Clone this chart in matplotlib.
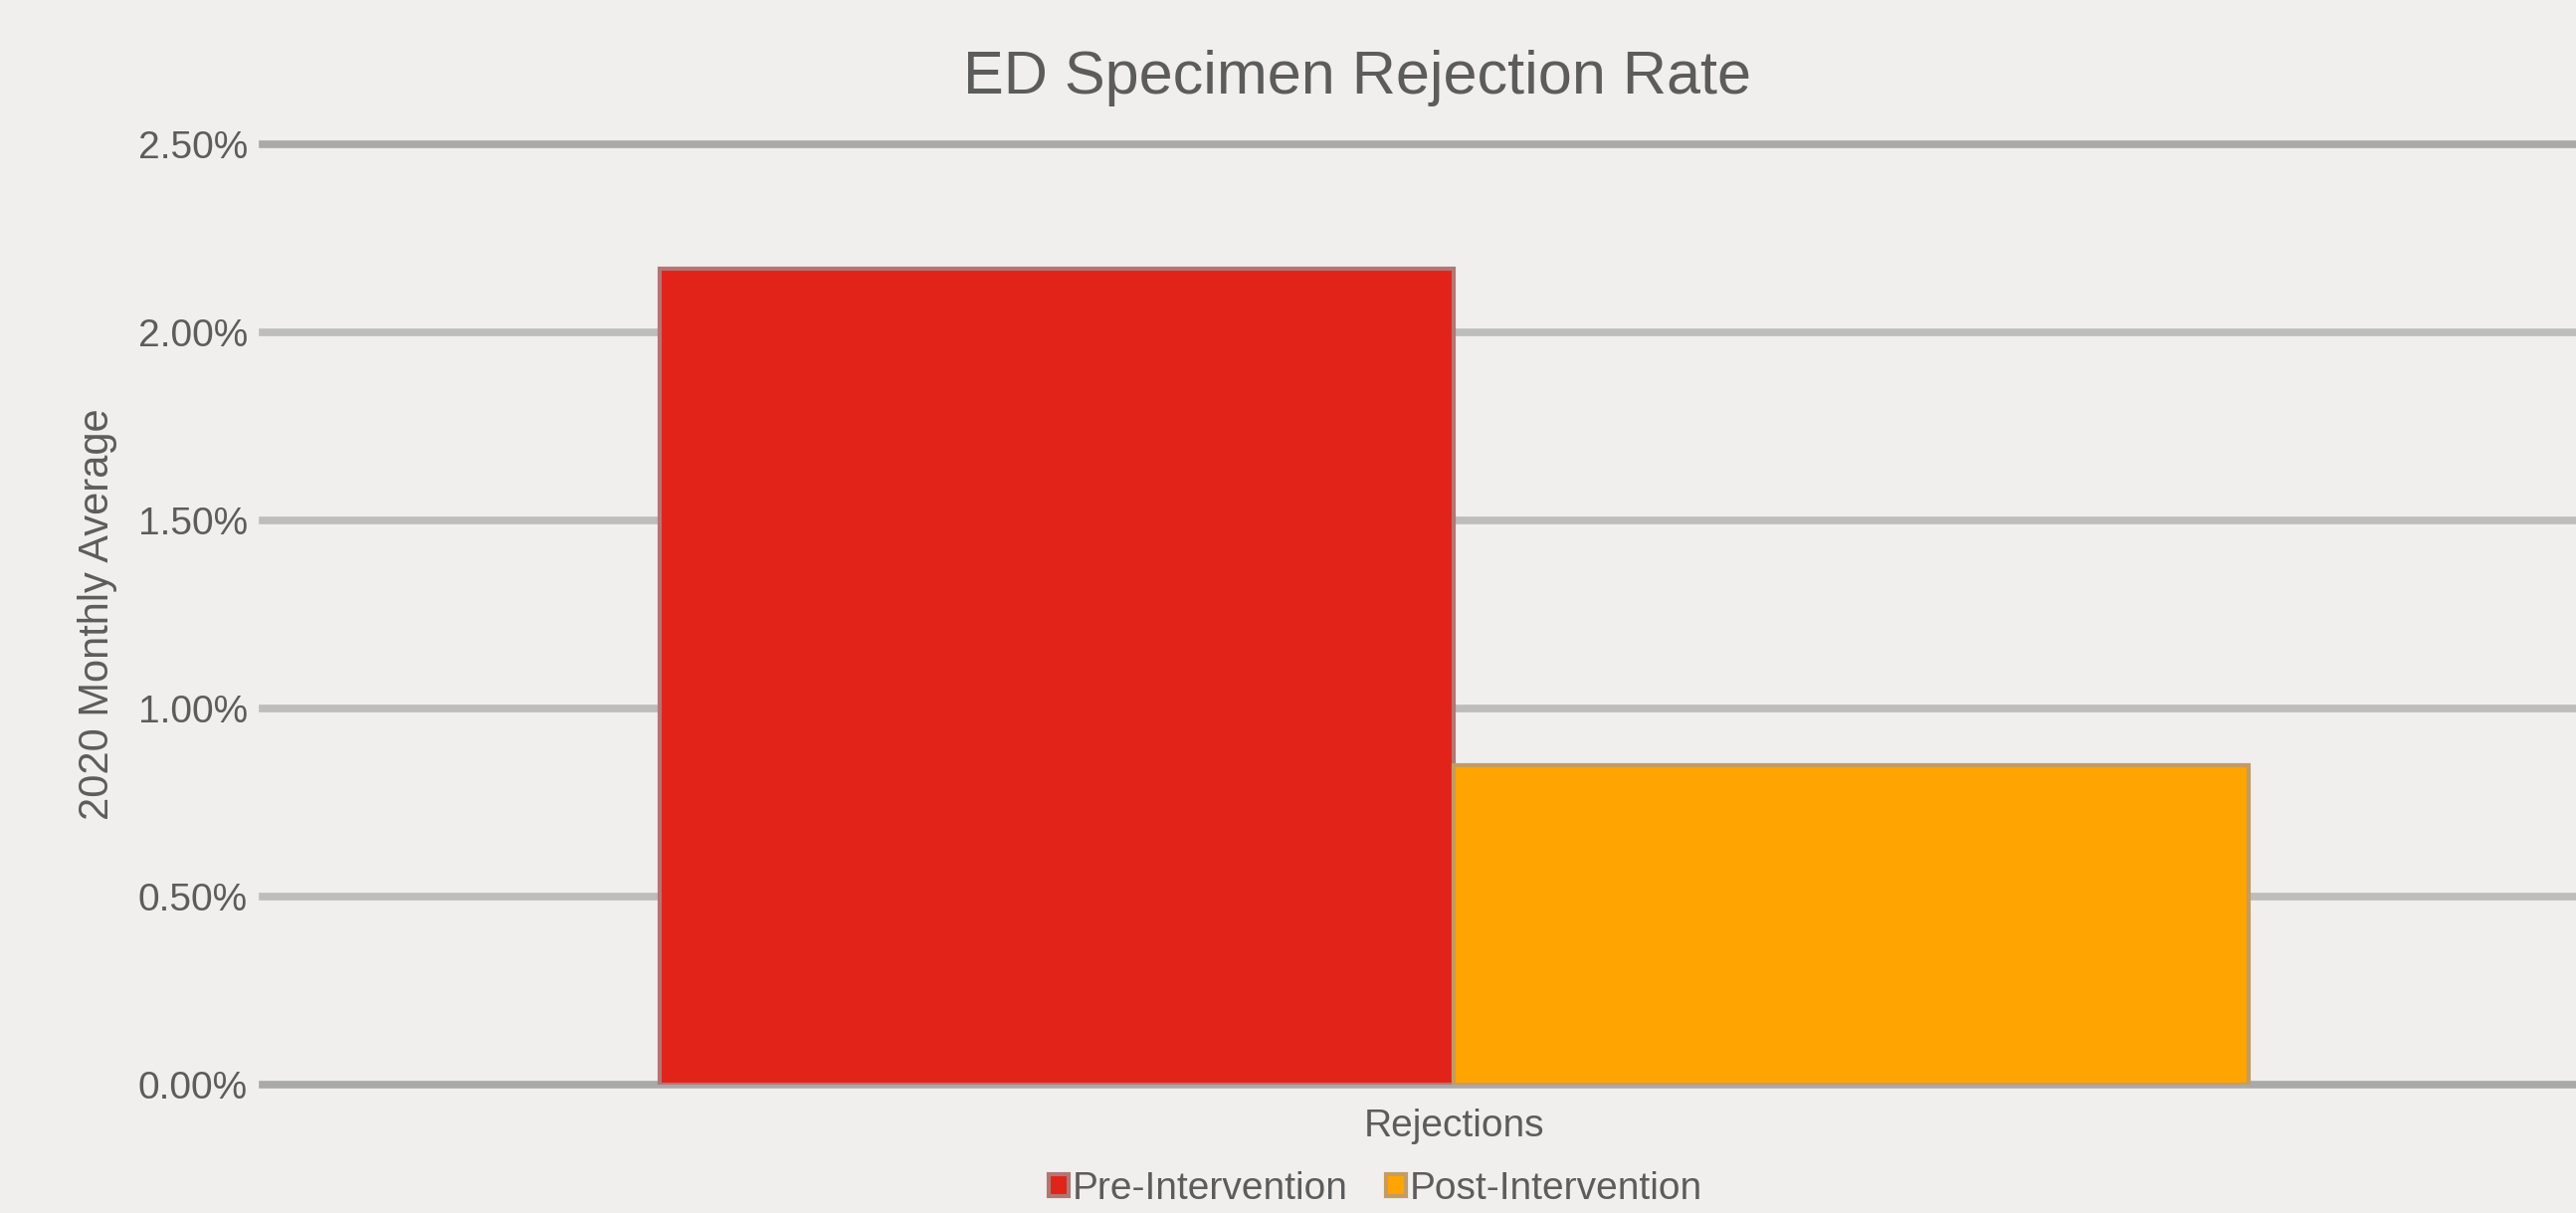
"""
ED specimen rejection rate, pre vs post intervention.
"""
import matplotlib
matplotlib.use("Agg")
import matplotlib.pyplot as plt
from matplotlib.ticker import FuncFormatter

categories = ["Rejections"]
series_names = ["Pre-Intervention", "Post-Intervention"]
pre_values = [2.17]
post_values = [0.85]
y_ticks = [0.0, 0.5, 1.0, 1.5, 2.0, 2.5]

BG = "#f0efed"
TEXT = "#5c5c5c"
RED = "#e2231a"
ORANGE = "#ffa400"

plt.rcParams["font.family"] = ["Liberation Sans", "DejaVu Sans"]


def main():
    fig = plt.figure(figsize=(25.89, 12.19), dpi=100, facecolor=BG)
    ax = fig.add_axes([0.102, 0.1058, 0.9247, 0.775], facecolor=BG)

    x = list(range(len(categories)))
    width = 0.3335
    ax.bar([i - width / 2 for i in x], pre_values, width, color=RED,
           edgecolor="#b07775", linewidth=3.0, label=series_names[0], zorder=3)
    ax.bar([i + width / 2 for i in x], post_values, width, color=ORANGE,
           edgecolor="#c49c62", linewidth=3.0, label=series_names[1], zorder=3)

    ax.set_xlim(-0.5, len(categories) - 0.5)
    ax.set_ylim(y_ticks[0], y_ticks[-1])
    ax.set_yticks(y_ticks)
    ax.yaxis.set_major_formatter(FuncFormatter(lambda v, p: f"{v:.2f}%"))
    ax.set_xticks(x)
    ax.set_xticklabels(categories)

    ax.set_axisbelow(True)
    ax.yaxis.grid(True, color="#bdbdbb", linewidth=5.5)
    grid = ax.get_ygridlines()
    grid[0].set_color("#a9a9a7")
    grid[-1].set_color("#a9a9a7")
    for g in grid:
        g.set_clip_on(False)

    for s in ax.spines.values():
        s.set_visible(False)
    ax.tick_params(axis="y", length=0, pad=11, labelsize=28, labelcolor=TEXT)
    ax.tick_params(axis="x", length=0, pad=17, labelsize=28, labelcolor=TEXT)

    fig.text(0.527, 0.936, "ED Specimen Rejection Rate", ha="center",
             va="center", fontsize=44, color=TEXT)
    fig.text(0.038, 0.494, "2020 Monthly Average", ha="center", va="center",
             rotation=90, fontsize=30, color=TEXT)

    fig.legend(loc="center", bbox_to_anchor=(0.534, 0.02), ncol=2,
               frameon=False, fontsize=28, labelcolor=TEXT,
               handlelength=0.5, handleheight=0.5, handletextpad=0.1,
               columnspacing=1.0)

    fig.savefig("out.png", dpi=100, facecolor=BG)


if __name__ == '__main__':
    main()
